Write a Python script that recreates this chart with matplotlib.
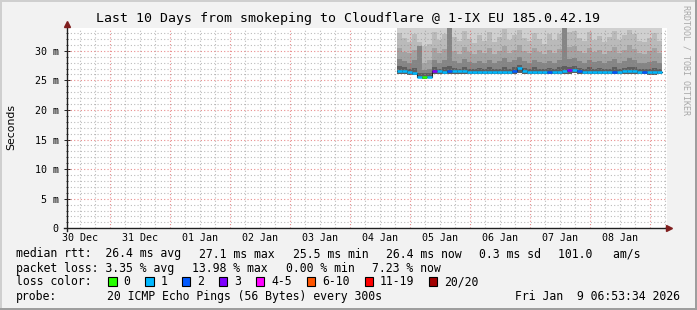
import numpy as np
import pandas as pd
import matplotlib
matplotlib.use('Agg')
import matplotlib.pyplot as plt
import matplotlib.dates as mdates
from matplotlib.patches import Rectangle
from matplotlib.lines import Line2D
from matplotlib.ticker import MultipleLocator, FuncFormatter

W, H = 697, 310
MONO = 'DejaVu Sans Mono'

TITLE = 'Last 10 Days from smokeping to Cloudflare @ 1-IX EU 185.0.42.19'
T_START = pd.Timestamp('2025-12-30 06:53:34')
T_END = pd.Timestamp('2026-01-09 06:53:34')
BIN_START = pd.Timestamp('2026-01-04 19:00')   # 2h bins

# median rtt per 2h bin (ms)
median = [26.6, 26.6, 26.35, 26.3, 25.6, 25.5, 25.6, 26.65, 26.5, 26.45,
          26.5, 26.6, 26.55, 26.5, 26.4, 26.4, 26.4, 26.35, 26.4, 26.4,
          26.4, 26.4, 26.45, 26.6, 27.1, 26.6, 26.45, 26.45, 26.4, 26.4,
          26.45, 26.4, 26.4, 26.5, 26.7, 26.8, 26.5, 26.4, 26.4, 26.45,
          26.4, 26.45, 26.4, 26.4, 26.45, 26.5, 26.6, 26.6, 26.45, 26.4,
          26.35, 26.35, 26.4]
# lost pings out of 20
loss = [1, 1, 1, 1, 1, 0, 1, 3, 1, 1,
        2, 1, 1, 1, 1, 1, 1, 1, 1, 1,
        1, 1, 1, 2, 1, 1, 1, 1, 1, 1,
        2, 1, 1, 1, 3, 1, 2, 1, 1, 1,
        1, 1, 1, 2, 1, 1, 1, 1, 1, 2,
        1, 1, 1]
# smoke: ping distribution levels (ms)
smoke_min = [26.1, 26.1, 25.9, 25.9, 25.4, 25.3, 25.4, 26.1, 26.1, 26.0,
             26.1, 26.1, 26.1, 26.1, 26.0, 26.0, 26.0, 26.0, 26.0, 26.0,
             26.0, 26.0, 26.0, 26.1, 26.3, 26.1, 26.0, 26.0, 26.0, 26.0,
             26.0, 26.0, 26.0, 26.0, 26.1, 26.2, 26.1, 26.0, 26.0, 26.0,
             26.0, 26.0, 26.0, 26.0, 26.0, 26.1, 26.1, 26.1, 26.0, 26.0,
             25.9, 25.9, 26.0]
smoke_p55 = [27.4, 27.2, 27.0, 27.1, 26.3, 26.2, 26.3, 27.3, 27.0, 27.2,
             27.5, 27.1, 27.0, 27.3, 27.0, 26.9, 27.1, 27.0, 27.2, 26.9,
             27.0, 27.3, 27.0, 27.2, 27.6, 27.1, 27.0, 27.2, 27.0, 26.9,
             27.1, 27.0, 27.2, 27.4, 27.3, 27.4, 27.1, 27.0, 27.2, 27.0,
             27.1, 26.9, 27.0, 27.2, 27.0, 27.1, 27.3, 27.2, 27.0, 26.9,
             27.0, 27.1, 26.9]
smoke_p65 = [28.6, 28.2, 28.0, 28.4, 30.8, 26.8, 27.0, 28.5, 28.0, 28.4,
             35.0, 28.3, 28.0, 28.6, 28.1, 27.9, 28.3, 28.0, 28.5, 27.9,
             28.2, 28.7, 28.1, 28.4, 28.9, 28.2, 28.0, 28.5, 28.1, 27.9,
             28.3, 28.0, 28.4, 35.0, 28.6, 28.7, 28.2, 28.0, 28.5, 28.1,
             28.3, 27.9, 28.2, 28.6, 28.0, 28.3, 28.7, 28.4, 28.0, 27.9,
             28.1, 28.3, 27.9]
smoke_p80 = [30.5, 29.8, 29.6, 30.2, 30.8, 28.0, 28.4, 30.4, 29.7, 30.3,
             35.0, 30.0, 29.5, 30.6, 29.8, 29.4, 30.1, 29.6, 30.4, 29.5,
             29.9, 30.8, 29.7, 30.2, 31.0, 29.9, 29.6, 30.5, 29.8, 29.4,
             30.2, 29.7, 30.3, 35.0, 30.6, 30.8, 29.9, 29.6, 30.5, 29.8,
             30.1, 29.5, 30.0, 30.7, 29.7, 30.2, 30.9, 30.3, 29.7, 29.5,
             29.9, 30.4, 29.6]
smoke_p90 = [33.0, 32.2, 31.5, 32.8, 31.5, 30.8, 31.2, 33.2, 31.8, 32.9,
             35.0, 32.4, 31.6, 33.4, 32.0, 31.3, 32.6, 31.7, 33.1, 31.4,
             32.3, 33.6, 31.9, 32.7, 33.5, 32.1, 31.6, 33.0, 32.0, 31.2,
             32.8, 31.8, 32.9, 35.0, 33.2, 33.4, 32.2, 31.6, 33.1, 31.9,
             32.5, 31.5, 32.3, 33.3, 31.8, 32.6, 33.5, 32.8, 31.7, 31.4,
             32.2, 33.0, 31.6]
smoke_max = [36.5, 35.8, 35.2, 36.9, 37.4, 36.1, 35.5, 36.8, 35.9, 36.3,
             38.0, 36.0, 35.4, 37.1, 35.7, 35.3, 36.4, 35.6, 36.7, 35.2,
             36.2, 37.3, 35.8, 36.5, 37.0, 36.0, 35.5, 36.6, 35.9, 35.1,
             36.3, 35.7, 36.8, 38.2, 36.9, 37.2, 36.1, 35.6, 36.7, 35.8,
             36.4, 35.3, 36.1, 37.0, 35.6, 36.3, 37.1, 36.5, 35.7, 35.4,
             36.0, 36.6, 35.5]

loss_labels = ['0', '1', '2', '3', '4-5', '6-10', '11-19', '20/20']
loss_limits = [0, 1, 2, 3, 5, 10, 19, 20]
loss_colors = ['#26ff00', '#00b8ff', '#0059ff', '#7e00ff', '#ff00ff', '#ff5500', '#ff0000', '#a10000']

row_rtt = ['median rtt:  26.4 ms avg', '27.1 ms max', '25.5 ms min', '26.4 ms now', '0.3 ms sd', '101.0   am/s']
row_loss = ['packet loss: 3.35 % avg', '13.98 % max', '0.00 % min', '7.23 % now']
probe_text = '20 ICMP Echo Pings (56 Bytes) every 300s'
stamp_text = 'Fri Jan  9 06:53:34 2026'


def fx(px):
    return px / W


def fy(py):
    return 1 - py / H


def loss_color(n):
    for lim, c in zip(loss_limits, loss_colors):
        if n <= lim:
            return c
    return loss_colors[-1]


def stepvals(v):
    return np.append(v, v[-1])


fig = plt.figure(figsize=(W / 100, H / 100), dpi=100, facecolor='#f2f2f2')
ax = fig.add_axes([fx(67), fy(228.3), 600 / W, 200.6 / H])
ax.set_facecolor('white')
for s in ax.spines.values():
    s.set_visible(False)

edges = pd.date_range(BIN_START, periods=len(median) + 1, freq='2h')
xe = mdates.date2num(edges)

# smoke, widest/lightest first
bands = [(smoke_max, '#d0d0d0'), (smoke_p90, '#bababa'), (smoke_p80, '#a3a3a3'),
         (smoke_p65, '#858585'), (smoke_p55, '#5e5e5e')]
for top, col in bands:
    ax.fill_between(xe, stepvals(smoke_min), stepvals(top), step='post',
                    color=col, lw=0, zorder=1)

# dotted grid over the smoke, like rrdtool
dots = (0, (1, 2))
for t in pd.date_range('2025-12-30 12:00', T_END, freq='6h'):
    if t.hour == 0:
        ax.axvline(mdates.date2num(t), color='#de4f4f', alpha=0.65, lw=0.8, ls=dots, zorder=2)
    else:
        ax.axvline(mdates.date2num(t), color='#8f8f8f', alpha=0.6, lw=0.8, ls=dots, zorder=2)
for v in range(1, 34):
    if v % 5 == 0:
        ax.axhline(v, color='#de4f4f', alpha=0.65, lw=0.8, ls=dots, zorder=2)
    else:
        ax.axhline(v, color='#8f8f8f', alpha=0.6, lw=0.8, ls=dots, zorder=2)

# median line coloured by loss
ax.step(xe, stepvals(median), where='post', color='#202020', lw=0.8, zorder=3)
ax.hlines(median, xe[:-1], xe[1:], colors=[loss_color(n) for n in loss], lw=1.8, zorder=4)

ax.set_xlim(mdates.date2num(T_START), mdates.date2num(T_END))
ax.set_ylim(0, 33.9)

ax.xaxis.set_major_locator(mdates.HourLocator(byhour=12))
ax.xaxis.set_major_formatter(mdates.DateFormatter('%d %b'))
ax.tick_params(axis='x', length=0, pad=3.4, labelsize=7.2, labelfontfamily=MONO)
ax.yaxis.set_major_locator(MultipleLocator(5))
ax.yaxis.set_minor_locator(MultipleLocator(1))
ax.yaxis.set_major_formatter(FuncFormatter(lambda v, p: '0' if v == 0 else '%d m' % v))
ax.tick_params(axis='y', which='major', direction='inout', length=4, width=0.7,
               color='#1f1f1f', pad=4.0, labelsize=7.2, labelfontfamily=MONO)
ax.tick_params(axis='y', which='minor', direction='inout', length=2, width=0.6, color='#1f1f1f')

# axes with arrows
fig.add_artist(Line2D([fx(64), fx(669)], [fy(228.3), fy(228.3)], color='#1f1f1f', lw=1.0))
fig.add_artist(Line2D([fx(66.7), fx(66.7)], [fy(231), fy(24)], color='#1f1f1f', lw=1.0))
fig.add_artist(Line2D([fx(669)], [fy(228.3)], marker='>', ms=4.5, color='#801f1f', lw=0))
fig.add_artist(Line2D([fx(66.7)], [fy(24)], marker='^', ms=4.5, color='#801f1f', lw=0))

# frame shading
fig.add_artist(Rectangle((0, fy(2)), 1, 2 / H, transform=fig.transFigure, color='#cfcfcf', lw=0))
fig.add_artist(Rectangle((0, 0), 2 / W, 1, transform=fig.transFigure, color='#cfcfcf', lw=0))
fig.add_artist(Rectangle((0, 0), 1, 2.5 / H, transform=fig.transFigure, color='#9e9e9e', lw=0))
fig.add_artist(Rectangle((1 - 2.5 / W, 0), 2.5 / W, 1, transform=fig.transFigure, color='#9e9e9e', lw=0))

fig.text(fx(347.5), fy(18.5), TITLE, ha='center', va='center', family=MONO, size=9.5)
fig.text(fx(11), fy(127), 'Seconds', rotation=90, ha='center', va='center', family='DejaVu Sans', size=7.8)
fig.text(fx(686), fy(5), 'RRDTOOL / TOBI OETIKER', rotation=270, ha='center', va='top',
         family=MONO, size=6.0, color='#a8a8a8')

# legend rows
cw, gap = 6.93, 17
lsize = 8.3
x = 16
for item in row_rtt:
    fig.text(fx(x), fy(254), item, ha='left', va='center', family=MONO, size=lsize)
    x += len(item) * cw + gap
x = 16
for item in row_loss:
    fig.text(fx(x), fy(268.3), item, ha='left', va='center', family=MONO, size=lsize)
    x += len(item) * cw + gap

fig.text(fx(16), fy(281.7), 'loss color:', ha='left', va='center', family=MONO, size=lsize)
bx = 108.3
for lab, col in zip(loss_labels, loss_colors):
    fig.add_artist(Rectangle((fx(bx), fy(285.7)), 8.3 / W, 8.3 / H, transform=fig.transFigure,
                             facecolor=col, edgecolor='black', lw=0.8))
    fig.text(fx(bx + 15), fy(281.7), lab, ha='left', va='center', family=MONO, size=lsize)
    bx += 15 + len(lab) * cw + 15

fig.text(fx(16), fy(296.5), 'probe:', ha='left', va='center', family=MONO, size=lsize)
fig.text(fx(107), fy(296.5), probe_text, ha='left', va='center', family=MONO, size=lsize)
fig.text(fx(680), fy(296.5), stamp_text, ha='right', va='center', family=MONO, size=lsize)

fig.savefig('out.png', dpi=100, facecolor=fig.get_facecolor())
